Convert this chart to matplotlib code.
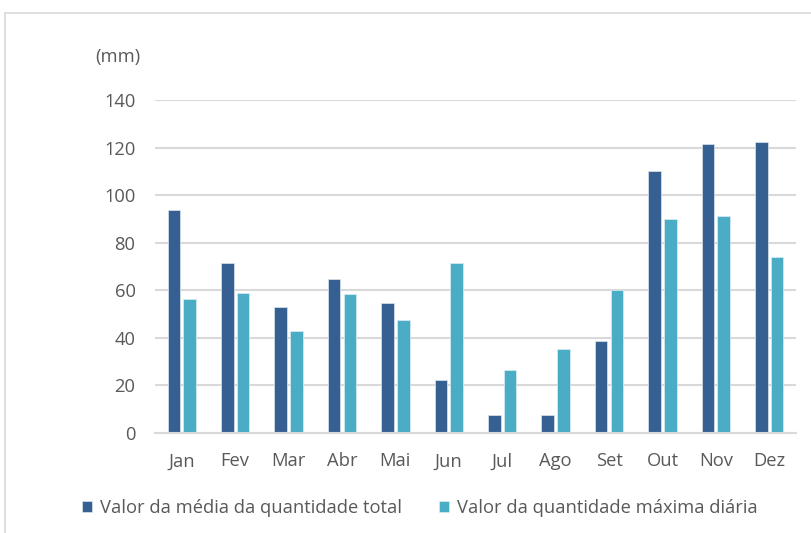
import matplotlib.pyplot as plt
import numpy as np
from matplotlib.lines import Line2D

# Dados
meses = ['Jan', 'Fev', 'Mar', 'Abr', 'Mai', 'Jun', 'Jul', 'Ago', 'Set', 'Out', 'Nov', 'Dez']
media_total = [93.7, 71.3, 53.1, 64.9, 54.5, 22.3, 7.4, 7.4, 38.7, 110.0, 121.4, 122.2]
maxima_diaria = [56.5, 58.7, 42.9, 58.3, 47.4, 71.3, 26.5, 35.2, 60.0, 90.0, 91.3, 74.1]
yticks = [0, 20, 40, 60, 80, 100, 120, 140]

cor_escura = '#376092'
cor_clara = '#4BACC6'
cor_texto = '#595959'
fs = 13.2

plt.rcParams['font.family'] = ['Open Sans', 'DejaVu Sans']

fig = plt.figure(figsize=(8.12, 5.33), dpi=100)
ax = fig.add_axes([155/812, 1 - 433/533, (796 - 155)/812, (433 - 100)/533])

x = np.arange(len(meses))
width = 0.235
gap = 0.03
ax.bar(x - width/2 - gap, media_total, width, color=cor_escura, edgecolor='#DCE6F0', linewidth=0.5,
       label='Valor da média da quantidade total')
ax.bar(x + width/2 + gap, maxima_diaria, width, color=cor_clara, edgecolor='#DAEEF3', linewidth=0.5,
       label='Valor da quantidade máxima diária')

ax.set_xlim(-0.5, len(meses) - 0.5)
ax.set_ylim(0, 140)
ax.set_yticks(yticks)
ax.set_xticks(x, meses)
ax.yaxis.grid(True, color='#D9D9D9', linewidth=1.5)
ax.set_axisbelow(True)
for s in ['top', 'right', 'left']:
    ax.spines[s].set_visible(False)
ax.spines['bottom'].set_color('#D9D9D9')
ax.spines['bottom'].set_linewidth(1.5)
ax.tick_params(axis='both', length=0, labelsize=fs, colors=cor_texto)
ax.tick_params(axis='y', pad=14)
ax.tick_params(axis='x', pad=14)

fig.text(95/812, 1 - 57/533, '(mm)', fontsize=fs, color=cor_texto, va='center')

fig.legend(loc='center', bbox_to_anchor=(420/812, 1 - 508/533), ncol=2, frameon=False,
           fontsize=fs, labelcolor=cor_texto, handlelength=0.55, handleheight=0.55,
           handletextpad=0.45, columnspacing=2.0)

# moldura do gráfico
fig.add_artist(Line2D([5/812, 1], [1 - 13/533, 1 - 13/533], color='#D9D9D9', linewidth=1.2))
fig.add_artist(Line2D([5/812, 5/812], [0, 1 - 13/533], color='#D9D9D9', linewidth=1.2))

fig.savefig('out.png', dpi=100)
